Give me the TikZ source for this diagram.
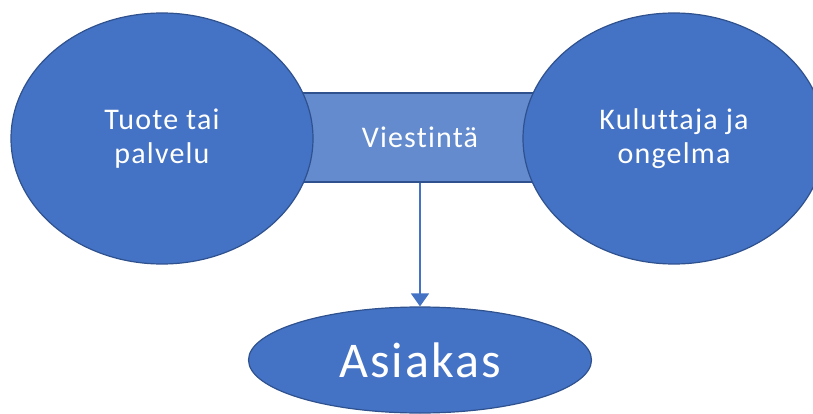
\documentclass[tikz,border=0pt]{standalone}
\usepackage{fontspec}
\setmainfont{Carlito}[Ligatures=NoCommon,LetterSpace=4]
\usetikzlibrary{shapes.geometric,arrows.meta}
\definecolor{officeblue}{RGB}{68,114,196}
\definecolor{darkblue}{RGB}{47,82,143}
\definecolor{lightblue}{RGB}{99,139,206}
\begin{document}
\begin{tikzpicture}[x=1pt,y=-1pt,
	bubble/.style={ellipse,fill=officeblue,draw=darkblue,line width=1.2pt,inner sep=0pt,text=white,align=center,font=\fontsize{30}{34}\selectfont},
	bar/.style={rectangle,fill=lightblue,draw=darkblue,line width=1.2pt,inner sep=0pt,text=white,font=\fontsize{30}{34}\selectfont}]
	\useasboundingbox (0,0) rectangle (813,414);
	\clip (0,0) rectangle (813,414);

	\node[bar,minimum width=240pt,minimum height=89pt] (viesti) at (420,137.5) {Viestintä};
	\node[bubble,minimum width=302pt,minimum height=251pt] (tuote) at (162,138.5) {Tuote tai\\palvelu};
	\node[bubble,minimum width=302pt,minimum height=251pt] (kuluttaja) at (674,138.5) {Kuluttaja ja\\ongelma};
	\node[bubble,minimum width=343pt,minimum height=106pt,font=\fontsize{50}{56}\selectfont] (asiakas) at (420,360) {Asiakas};

	\draw[-{Triangle[width=18pt,length=13pt]},officeblue,line width=1.5pt] (viesti.south) -- (asiakas.north);
\end{tikzpicture}
\end{document}
